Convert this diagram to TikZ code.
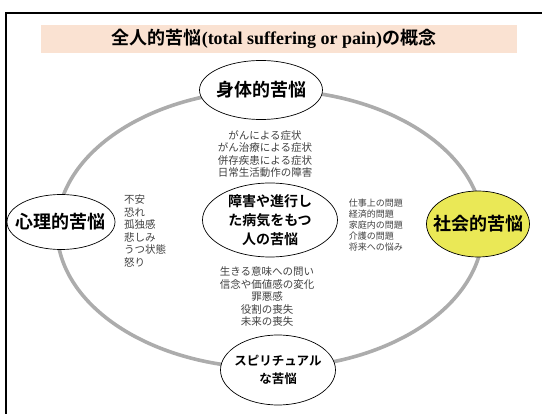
\documentclass[tikz,border=0pt]{standalone}
\usepackage{fontspec}
\setmainfont{Liberation Serif}
\newfontfamily\jpfont{Noto Sans CJK JP}
\newfontfamily\jpbold{Noto Sans CJK JP Bold}
\definecolor{titelband}{RGB}{250,226,210}
\definecolor{sozialgelb}{RGB}{234,232,86}
\definecolor{ringgrau}{RGB}{172,172,172}
\usetikzlibrary{shapes.geometric}

\begin{document}
\begin{tikzpicture}[x=1pt, y=-1pt,
			sorge/.style={draw, ellipse, fill=white, line width=0.7pt, inner xsep=-12pt, inner ysep=-4pt, align=center},
			gross/.style={font=\jpbold\fontsize{18}{20}\selectfont},
			liste/.style={text=black!75, inner sep=0pt, font=\jpfont\fontsize{10.5}{12.5}\selectfont}]
			%Bildbereich
			\useasboundingbox (0,0) rectangle (542,414);
			%Rahmen und Titel
			\draw[line width=2.6pt] (6,420) -- (6,13) -- (548,13);
			\fill[titelband] (41,25) rectangle (517,53);
			\node[font=\jpbold\fontsize{18}{20}\selectfont] (titel) at (274,39) {全人的苦悩{\rmfamily\bfseries (total suffering or pain)}の概念};
			%Ring
			\draw[ringgrau, line width=3.6pt] (270,229) ellipse [x radius=213, y radius=139];
			%die vier Seiten
			\node[sorge, gross, minimum width=123, minimum height=59] (koerper) at (261,90) {身体的苦悩};
			\node[sorge, gross, minimum width=108, minimum height=55] (psyche) at (61,222) {心理的苦悩};
			\node[sorge, gross, fill=sozialgelb, minimum width=103, minimum height=66] (sozial) at (478,224) {社会的苦悩};
			\node[sorge, minimum width=115, minimum height=70, font=\jpbold\fontsize{12.5}{18}\selectfont] (spirit) at (278,370) {スピリチュアル\\な苦悩};
			%Mitte
			\node[sorge, minimum width=135, minimum height=74, font=\jpbold\fontsize{14}{19}\selectfont] (mitte) at (270,220) {障害や進行し\\た病気をもつ\\人の苦悩};
			%Beschriftung
			\node[liste, align=center] (koerperliste) at (265,154) {がんによる症状\\がん治療による症状\\併存疾患による症状\\日常生活動作の障害};
			\node[liste, align=left, anchor=west] (psycheliste) at (124,231) {不安\\恐れ\\孤独感\\悲しみ\\うつ状態\\怒り};
			\node[liste, align=left, anchor=east, font=\jpfont\fontsize{9}{11}\selectfont] (sozialliste) at (403,225) {仕事上の問題\\経済的問題\\家庭内の問題\\介護の問題\\将来への悩み};
			\node[liste, align=center] (spiritliste) at (267,297) {生きる意味への問い\\信念や価値感の変化\\罪悪感\\役割の喪失\\未来の喪失};
		\end{tikzpicture}
\end{document}
